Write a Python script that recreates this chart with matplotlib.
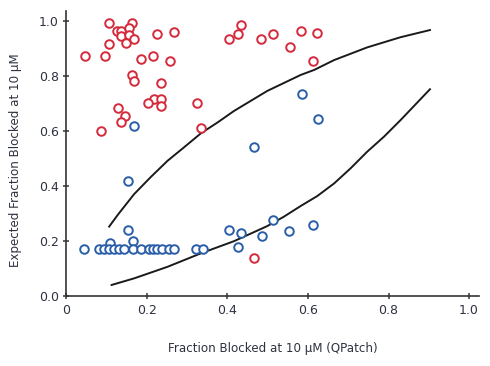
import matplotlib
matplotlib.use("Agg")
import matplotlib.pyplot as plt

# Red circles (fraction blocked QPatch, expected fraction blocked)
red_x = [0.106, 0.163, 0.125, 0.135, 0.156, 0.135, 0.156, 0.148, 0.167, 0.105,
         0.046, 0.095, 0.185, 0.214, 0.225, 0.267, 0.257, 0.163, 0.167, 0.236,
         0.218, 0.236, 0.203, 0.236, 0.127, 0.146, 0.135, 0.086, 0.323, 0.335,
         0.404, 0.425, 0.433, 0.483, 0.514, 0.582, 0.555, 0.623, 0.613, 0.465]
red_y = [0.993, 0.993, 0.963, 0.963, 0.972, 0.944, 0.948, 0.920, 0.932, 0.914,
         0.873, 0.872, 0.861, 0.873, 0.953, 0.960, 0.855, 0.804, 0.781, 0.773,
         0.714, 0.716, 0.700, 0.690, 0.682, 0.654, 0.631, 0.600, 0.700, 0.611,
         0.932, 0.953, 0.984, 0.934, 0.953, 0.964, 0.903, 0.954, 0.855, 0.139]

# Blue circles
blue_x = [0.167, 0.465, 0.584, 0.626, 0.154, 0.154, 0.164, 0.108,
          0.044, 0.081, 0.094, 0.106, 0.119, 0.131, 0.143, 0.164, 0.185,
          0.205, 0.215, 0.226, 0.237, 0.255, 0.267, 0.321, 0.338,
          0.404, 0.433, 0.425, 0.485, 0.514, 0.553, 0.613]
blue_y = [0.619, 0.542, 0.733, 0.642, 0.418, 0.240, 0.200, 0.191,
          0.170, 0.170, 0.170, 0.170, 0.170, 0.170, 0.170, 0.170, 0.170,
          0.170, 0.170, 0.170, 0.170, 0.170, 0.170, 0.170, 0.170,
          0.240, 0.230, 0.179, 0.219, 0.276, 0.237, 0.258]

# Upper and lower bound curves
upper_x = [0.106, 0.127, 0.168, 0.210, 0.251, 0.292, 0.334, 0.375, 0.416,
           0.499, 0.582, 0.615, 0.665, 0.747, 0.830, 0.903]
upper_y = [0.252, 0.294, 0.370, 0.433, 0.491, 0.540, 0.591, 0.630, 0.672,
           0.745, 0.803, 0.821, 0.857, 0.903, 0.940, 0.966]
lower_x = [0.112, 0.168, 0.251, 0.334, 0.416, 0.499, 0.540, 0.582, 0.623,
           0.665, 0.706, 0.747, 0.789, 0.830, 0.903]
lower_y = [0.040, 0.064, 0.106, 0.155, 0.199, 0.254, 0.288, 0.327, 0.363,
           0.409, 0.464, 0.524, 0.579, 0.639, 0.751]

x_ticks = [0, 0.2, 0.4, 0.6, 0.8, 1.0]
x_tick_labels = ["0", "0.2", "0.4", "0.6", "0.8", "1.0"]
y_ticks = [0.0, 0.2, 0.4, 0.6, 0.8, 1.0]
y_tick_labels = ["0.0", "0.2", "0.4", "0.6", "0.8", "1.0"]

plt.rcParams['font.family'] = ['DejaVu Sans']

fig = plt.figure(figsize=(4.9, 3.66), dpi=100)
ax = fig.add_axes([0.1357, 0.1913, 0.842, 0.7785])

RED = "#d42a3c"
BLUE = "#2a5ea8"
TXT = "#2e3140"

ax.plot(upper_x, upper_y, color="#1a1a1a", lw=1.4, zorder=2)
ax.plot(lower_x, lower_y, color="#1a1a1a", lw=1.4, zorder=2)

ax.scatter(red_x, red_y, s=38, facecolors="white", edgecolors=RED, linewidths=1.4, zorder=3)
ax.scatter(blue_x, blue_y, s=38, facecolors="white", edgecolors=BLUE, linewidths=1.4, zorder=3)

ax.set_xlim(0, 1.025)
ax.set_ylim(0, 1.035)
ax.set_xticks(x_ticks)
ax.set_xticklabels(x_tick_labels)
ax.set_yticks(y_ticks)
ax.set_yticklabels(y_tick_labels)

for s in ["top", "right"]:
    ax.spines[s].set_visible(False)
for s in ["left", "bottom"]:
    ax.spines[s].set_color("#333333")
    ax.spines[s].set_linewidth(1.2)

ax.tick_params(axis="both", direction="inout", length=5, width=1.1, color="#333333",
               labelsize=9, labelcolor=TXT, pad=3)

ax.set_xlabel("Fraction Blocked at 10 µM (QPatch)", fontsize=8.6, color=TXT)
ax.set_ylabel("Expected Fraction Blocked at 10 µM", fontsize=8.6, color=TXT)
ax.xaxis.set_label_coords(0.5, -0.16)
ax.yaxis.set_label_coords(-0.108, 0.477)

fig.savefig("out.png", dpi=100)
